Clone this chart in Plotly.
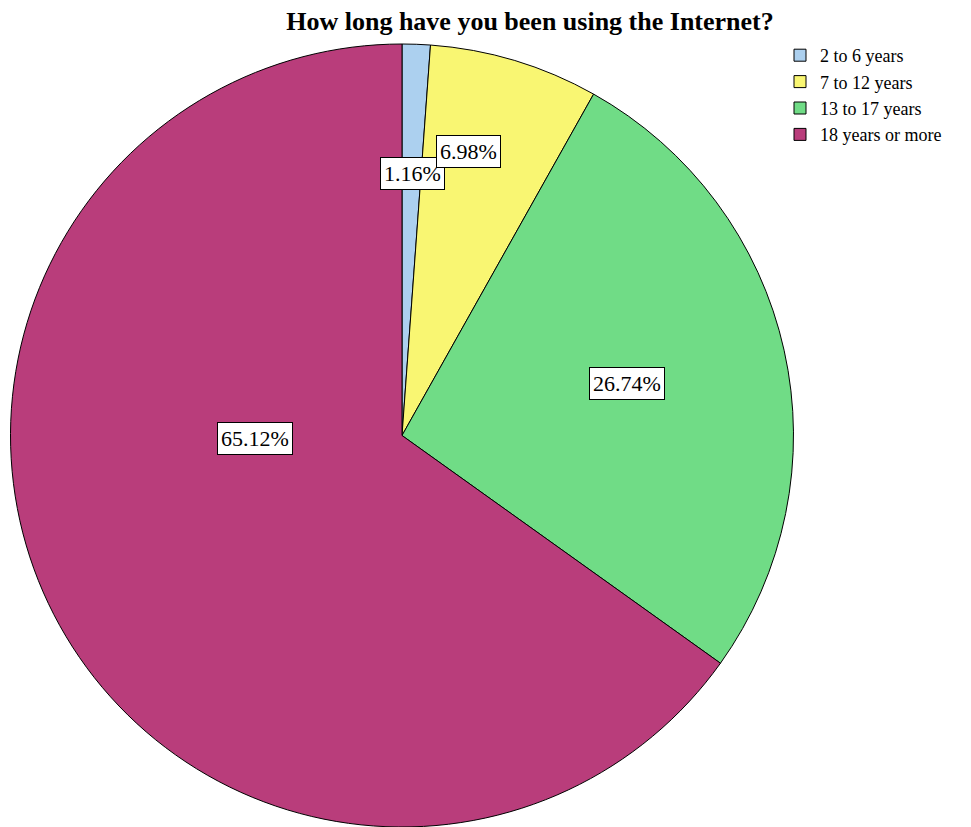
import plotly.graph_objects as go

categories = ["2 to 6 years", "7 to 12 years", "13 to 17 years", "18 years or more"]
percentages = [1.16, 6.98, 26.74, 65.12]
colors = ["#acd0ef", "#f9f672", "#70dc86", "#b93d7b"]

W, H = 971, 827
OFF = 8  # page body margin in px

# label box centres in page pixels (styling only)
label_px = [(412, 174), (468, 151), (627, 383), (255, 438)]

fig = go.Figure(go.Pie(
    labels=categories,
    values=percentages,
    sort=False,
    direction="clockwise",
    rotation=0,
    marker=dict(colors=colors, line=dict(color="black", width=1)),
    textinfo="none",
    hoverinfo="label+percent",
    domain=dict(x=[2 / W, 786 / W], y=[8 / H, 1 - 36 / H]),
))

for (px, py), v in zip(label_px, percentages):
    fig.add_annotation(
        x=(px - OFF) / W, y=1 - (py - OFF) / H, xref="paper", yref="paper",
        xanchor="center", yanchor="middle",
        text=f"{v:.2f}%", showarrow=False,
        font=dict(family="Liberation Serif", size=22, color="black"),
        bgcolor="white", bordercolor="black", borderwidth=1, borderpad=3,
    )

fig.update_layout(
    width=W, height=H,
    margin=dict(l=0, r=0, t=0, b=0),
    paper_bgcolor="white",
    title=dict(
        text="<b>How long have you been using the Internet?</b>",
        x=(530 - OFF) / W, xanchor="center", y=1 - (21 - OFF) / H, yanchor="middle",
        font=dict(family="Liberation Serif", size=26, color="black"),
    ),
    showlegend=True,
    legend=dict(
        x=772 / W, xanchor="left", y=1 - 29 / H, yanchor="top",
        font=dict(family="Liberation Serif", size=18, color="black"),
        traceorder="normal", itemwidth=30,
        tracegroupgap=0,
    ),
)

fig.write_html("out.html")
